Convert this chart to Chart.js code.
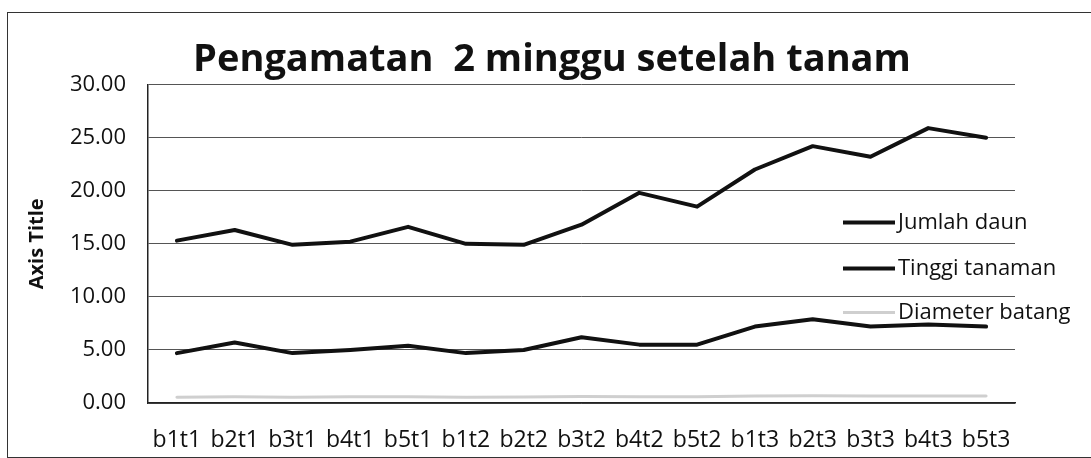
<!DOCTYPE html>
<html>
<head>
<meta charset="utf-8">
<script src="https://cdn.jsdelivr.net/npm/chart.js@4"></script>
<style>
    html, body { margin: 0; padding: 0; background: #fff; }
    #wrap { position: relative; width: 1091px; height: 458px; overflow: hidden; }
    #frame { position: absolute; left: 7px; top: 12px; width: 1100px; height: 444px; border: 1.5px solid #333; pointer-events: none; }
    canvas { position: absolute; left: 0; top: 0; }
</style>
</head>
<body>
<div id="wrap">
    <canvas id="growthChart" width="1091" height="458"></canvas>
    <div id="frame"></div>
</div>
<script>
const labels = ['b1t1', 'b2t1', 'b3t1', 'b4t1', 'b5t1', 'b1t2', 'b2t2', 'b3t2', 'b4t2', 'b5t2', 'b1t3', 'b2t3', 'b3t3', 'b4t3', 'b5t3'];
const jumlahDaun = [4.7, 5.7, 4.7, 5.0, 5.4, 4.7, 5.0, 6.2, 5.5, 5.5, 7.2, 7.9, 7.2, 7.4, 7.2];
const tinggiTanaman = [15.3, 16.3, 14.9, 15.2, 16.6, 15.0, 14.9, 16.8, 19.8, 18.5, 22.0, 24.2, 23.2, 25.9, 25.0];
const diameterBatang = [0.55, 0.6, 0.55, 0.58, 0.6, 0.55, 0.57, 0.62, 0.6, 0.6, 0.65, 0.68, 0.65, 0.67, 0.66];
const yTicks = [0, 5, 10, 15, 20, 25, 30];

// legend drawn over the plot, like the moved Excel legend
const overlayLegend = {
    id: 'overlayLegend',
    afterDraw(chart) {
        const { ctx, chartArea } = chart;
        const x0 = chartArea.right - 172;
        const rows = [138, 184, 228];
        ctx.save();
        ctx.font = '22px "Open Sans"';
        ctx.textBaseline = 'middle';
        chart.data.datasets.forEach((ds, i) => {
            const y = chartArea.top + rows[i];
            ctx.strokeStyle = ds.borderColor;
            ctx.lineWidth = ds.borderWidth;
            ctx.beginPath();
            ctx.moveTo(x0, y);
            ctx.lineTo(x0 + 52, y);
            ctx.stroke();
            ctx.fillStyle = '#111';
            ctx.fillText(ds.label, x0 + 55, y);
        });
        ctx.restore();
    }
};

const ctx = document.getElementById('growthChart').getContext('2d');
new Chart(ctx, {
    type: 'line',
    data: {
        labels: labels,
        datasets: [
            { label: 'Jumlah daun', data: jumlahDaun, borderColor: '#111', borderWidth: 4 },
            { label: 'Tinggi tanaman', data: tinggiTanaman, borderColor: '#111', borderWidth: 4 },
            { label: 'Diameter batang', data: diameterBatang, borderColor: '#cfcfcf', borderWidth: 3 }
        ]
    },
    options: {
        responsive: false,
        animation: false,
        layout: { padding: { left: 13, right: 0, top: 0, bottom: 0 } },
        elements: { point: { radius: 0 }, line: { tension: 0, borderJoinStyle: 'round', borderCapStyle: 'round' } },
        plugins: {
            legend: { display: false },
            tooltip: { enabled: false },
            title: {
                display: true,
                text: 'Pengamatan  2 minggu setelah tanam',
                color: '#111',
                font: { family: 'Open Sans', size: 38, weight: 'bold' },
                padding: { top: 37, bottom: 2 }
            }
        },
        scales: {
            x: {
                offset: true,
                grid: { display: false, drawTicks: false },
                border: { display: true, color: '#222', width: 1.5 },
                ticks: {
                    autoSkip: false, maxRotation: 0, padding: 24,
                    color: '#111', font: { family: 'Open Sans', size: 23 }
                },
                afterFit(scale) { scale.height = 55; }
            },
            y: {
                min: 0,
                max: 30,
                afterBuildTicks(scale) { scale.ticks = yTicks.map(v => ({ value: v })); },
                grid: { color: '#555', lineWidth: 1, drawTicks: false },
                border: { display: true, color: '#222', width: 1.5 },
                ticks: {
                    padding: 22,
                    color: '#111',
                    font: { family: 'Open Sans', size: 22 },
                    callback: v => Number(v).toFixed(2)
                },
                title: {
                    display: true,
                    text: 'Axis Title',
                    color: '#111',
                    font: { family: 'Open Sans', size: 20, weight: 'bold' },
                    padding: { top: 12, bottom: 0 }
                },
                afterFit(scale) { scale.width = 135; }
            },
            yRight: {
                position: 'right',
                display: true,
                grid: { display: false, drawTicks: false },
                border: { display: false },
                ticks: { display: false },
                afterFit(scale) { scale.width = 76; }
            }
        }
    },
    plugins: [overlayLegend]
});
</script>
</body>
</html>
